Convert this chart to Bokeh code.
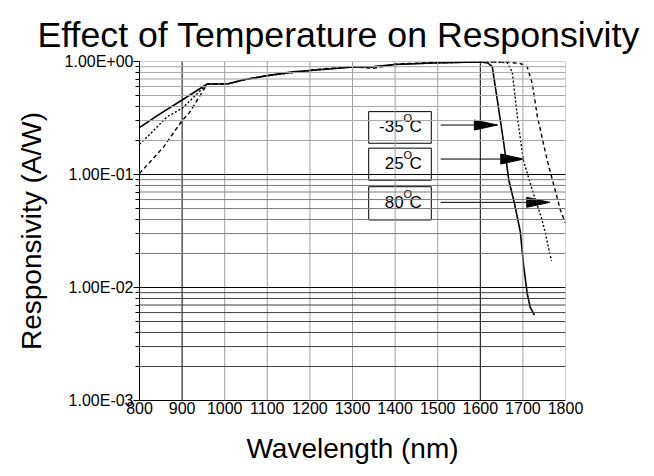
from bokeh.plotting import figure
from bokeh.models import Span, FixedTicker, CustomJSTickFormatter, Range1d
from bokeh.core.properties import value
from bokeh.embed import file_html
from bokeh.resources import INLINE

# ---- data ----
wl_m35 = [800, 838, 900, 959, 1006, 1045, 1100, 1160, 1215, 1295, 1350, 1400, 1490, 1540, 1600,
          1618, 1628, 1640, 1655, 1667, 1680, 1694, 1702, 1710, 1717, 1727]
r_m35 = [0.26, 0.325, 0.456, 0.632, 0.632, 0.69, 0.75, 0.81, 0.84, 0.89, 0.90, 0.94, 0.97, 0.98, 0.99,
         0.97, 0.90, 0.456, 0.19, 0.089, 0.056, 0.031, 0.0152, 0.0089, 0.0067, 0.0057]

wl_25 = [800, 826, 865, 900, 959, 1006, 1045, 1100, 1160, 1215, 1295, 1350, 1400, 1490, 1540, 1600,
         1640, 1663, 1675, 1687, 1701, 1722, 1743, 1753, 1767]
r_25 = [0.185, 0.23, 0.325, 0.385, 0.632, 0.632, 0.69, 0.75, 0.80, 0.84, 0.89, 0.89, 0.94, 0.97, 0.98, 0.99,
        0.99, 0.976, 0.81, 0.325, 0.134, 0.073, 0.042, 0.030, 0.0172]

wl_80 = [800, 857, 900, 916, 959, 1006, 1045, 1100, 1160, 1215, 1295, 1350, 1400, 1490, 1540, 1600,
         1660, 1694, 1710, 1722, 1734, 1757, 1788, 1800]
r_80 = [0.102, 0.176, 0.30, 0.348, 0.632, 0.632, 0.69, 0.75, 0.80, 0.85, 0.90, 0.87, 0.95, 0.98, 0.98, 0.99,
        0.99, 0.96, 0.90, 0.64, 0.325, 0.134, 0.0485, 0.037]

temps = ["-35", "25", "80"]
x_ticks = [800, 900, 1000, 1100, 1200, 1300, 1400, 1500, 1600, 1700, 1800]
y_ticks = [0.001, 0.01, 0.1, 1.0]
y_tick_labels = ["1.00E-03", "1.00E-02", "1.00E-01", "1.00E+00"]

FONT = "Liberation Sans"

p = figure(width=646, height=468, x_range=Range1d(800, 1800), y_range=Range1d(0.001, 1.0),
           y_axis_type="log", output_backend="svg", toolbar_location=None,
           min_border_left=139, min_border_right=81, min_border_top=61, min_border_bottom=68)
p.outline_line_color = None
p.background_fill_color = "white"
p.border_fill_color = "white"

p.title.text = "Effect of Temperature on Responsivity"
p.title.text_font = FONT
p.title.text_font_size = "35.7px"
p.title.text_font_style = "normal"
p.title.text_color = "black"
p.title.align = "left"
p.title.vertical_align = "top"
p.title.offset = -102
p.title.standoff = 10

# grid drawn as spans
p.xgrid.grid_line_color = None
p.ygrid.grid_line_color = None
for xv in x_ticks[1:]:
    col = "black" if xv in (900, 1600) else "#a0a0a0"
    p.add_layout(Span(location=xv, dimension="height", line_color=col, line_width=1))
minor_cols = {-3: "#404040", -2: "#7a7a7a", -1: "#a6a6a6"}
minor_ticks = []
for e in (-3, -2, -1):
    for k in range(2, 10):
        v = k * 10.0 ** e
        minor_ticks.append(v)
        p.add_layout(Span(location=v, dimension="width", line_color=minor_cols[e], line_width=1))
for v in y_ticks[1:]:
    col = "#a0a0a0" if v == 1.0 else "black"
    p.add_layout(Span(location=v, dimension="width", line_color=col, line_width=1))

# axes
xa = p.xaxis[0]
xa.ticker = FixedTicker(ticks=x_ticks)
xa.axis_label = "Wavelength (nm)"
xa.axis_label_text_font = FONT
xa.axis_label_text_font_size = "28px"
xa.axis_label_text_font_style = "normal"
xa.axis_label_text_color = "black"
xa.axis_label_standoff = 16
xa.major_label_text_font = FONT
xa.major_label_text_font_size = "16px"
xa.major_label_text_color = "black"
xa.major_label_standoff = 1
xa.major_tick_out = 0
xa.major_tick_in = 0
xa.minor_tick_out = 0
xa.minor_tick_in = 0
xa.axis_line_color = "black"

ya = p.yaxis[0]
ya.ticker = FixedTicker(ticks=y_ticks, minor_ticks=minor_ticks)
ya.formatter = CustomJSTickFormatter(args=dict(vals=y_ticks, labs=y_tick_labels), code="""
let best = 0, bd = 1e9;
for (let i = 0; i < vals.length; i++) {
  const d = Math.abs(Math.log10(tick) - Math.log10(vals[i]));
  if (d < bd) { bd = d; best = i; }
}
return labs[best];
""")
ya.axis_label = "Responsivity (A/W)"
ya.axis_label_text_font = FONT
ya.axis_label_text_font_size = "28px"
ya.axis_label_text_font_style = "normal"
ya.axis_label_text_color = "black"
ya.axis_label_standoff = 15
ya.major_label_text_font = FONT
ya.major_label_text_font_size = "16px"
ya.major_label_text_color = "black"
ya.major_label_standoff = 0
ya.major_tick_out = 6
ya.major_tick_in = 0
ya.minor_tick_out = 4
ya.minor_tick_in = 0
ya.major_tick_line_color = "black"
ya.minor_tick_line_color = "black"
ya.axis_line_color = "black"

# curves
p.line(wl_m35, r_m35, line_color="black", line_width=1.6)
p.line(wl_25, r_25, line_color="black", line_width=1.4, line_dash="2 2")
p.line(wl_80, r_80, line_color="black", line_width=1.4, line_dash="4 3")

# label boxes with arrows
box_left, box_right = 1338, 1485
box_tops = [0.36, 0.171, 0.078]
box_bottoms = [0.189, 0.089, 0.0396]
text_mid = [(t * b) ** 0.5 for t, b in zip(box_tops, box_bottoms)]
arrow_start = 1507
arrow_tips = [1640, 1702, 1763]
arrow_y = [0.274, 0.137, 0.0567]

p.quad(left=[box_left] * 3, right=[box_right] * 3, top=box_tops, bottom=box_bottoms,
       fill_color="white", line_color="black", line_width=1)
anchor = 1420
p.text(x=[anchor] * 3, y=text_mid, text=temps, text_align="right", text_baseline="middle",
       y_offset=-1, text_font=value(FONT), text_font_size="17px", text_color="black")
p.text(x=[anchor] * 3, y=text_mid, text=["O"] * 3, text_align="left", text_baseline="middle",
       y_offset=-9, text_font=value(FONT), text_font_size="11px", text_color="black")
p.text(x=[anchor] * 3, y=text_mid, text=["C"] * 3, text_align="left", text_baseline="middle",
       x_offset=6, y_offset=-1, text_font=value(FONT), text_font_size="17px", text_color="black")

p.segment(x0=[arrow_start] * 3, y0=arrow_y, x1=arrow_tips, y1=arrow_y, line_color="black", line_width=1)
head_len = 54  # nm  (~23 px)
head_f = 10 ** (5.0 / 113)
xs = [[t, t - head_len, t - head_len] for t in arrow_tips]
ys = [[y, y * head_f, y / head_f] for y in arrow_y]
p.patches(xs, ys, fill_color="black", line_color="black")

open("out.html", "w").write(file_html(p, INLINE))
